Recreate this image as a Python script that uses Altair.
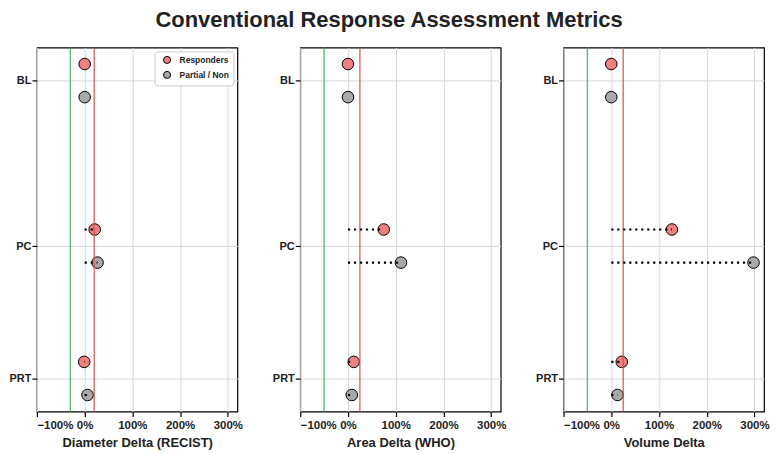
import altair as alt
import pandas as pd

# ---- data ----
panels = ["Diameter Delta (RECIST)", "Area Delta (WHO)", "Volume Delta"]
phases = ["BL", "PC", "PRT"]
phase_pos = [0, 5, 9]          # numeric y position of each phase (unequal spacing)
groups = ["Responders", "Partial / Non"]
group_shift = [-0.5, 0.5]

responders = {
    "Diameter Delta (RECIST)": [0, 21, -1],
    "Area Delta (WHO)": [0, 75, 12],
    "Volume Delta": [0, 127, 22],
}
partial = {
    "Diameter Delta (RECIST)": [0, 27, 6],
    "Area Delta (WHO)": [0, 111, 8],
    "Volume Delta": [0, 298, 13],
}
thr_pr = [-30, -50, -50]   # green lines
thr_pd = [20, 25, 25]      # red lines

x_ticks = [-100, 0, 100, 200, 300]
colors = ["#F08080", "#A9A9A9"]

FONT = "Liberation Sans"

y_label_expr = "''"
for name, pos in zip(reversed(phases), reversed(phase_pos)):
    y_label_expr = f"datum.value == {pos} ? '{name}' : ({y_label_expr})"
x_label_expr = "datum.value < 0 ? '\u2212' + abs(datum.value) + '%' : datum.value + '%'"

W, H = 201, 365


def panel(i, name):
    rows = []
    for g, shift, vals in zip(groups, group_shift, [responders[name], partial[name]]):
        for ph, pos, v in zip(phases, phase_pos, vals):
            rows.append({"group": g, "phase": ph, "y": pos + shift, "value": v, "zero": 0})
    df = pd.DataFrame(rows)
    thr = pd.DataFrame({"t": [thr_pr[i], thr_pd[i]], "kind": ["pr", "pd"]})

    xscale = alt.Scale(domain=[-100, 320], nice=False, zero=False)
    yscale = alt.Scale(domain=[-1, 10], reverse=True, nice=False, zero=False)

    xaxis = alt.Axis(values=x_ticks, labelExpr=x_label_expr, title=name,
                     titleFontSize=13, titleFontWeight="bold", titleFont=FONT,
                     titleColor="#222222", labelPadding=3, titlePadding=6)
    yaxis = alt.Axis(values=phase_pos, labelExpr=y_label_expr, title=None,
                     labelPadding=1, labelFontSize=11)

    legend = None
    if i == 0:
        legend = alt.Legend(title=None, orient="top-right", offset=4, padding=4,
                            strokeColor="#cccccc", fillColor="white", cornerRadius=3,
                            labelFontSize=8.5, labelFontWeight="bold", labelFont=FONT,
                            labelColor="#222222",
                            symbolSize=50, symbolType="circle", symbolStrokeColor="black",
                            symbolStrokeWidth=1, rowPadding=2, labelOffset=8,
                            symbolOffset=4)

    base = alt.Chart(df)
    pts = base.mark_point(filled=True, size=135, stroke="black", strokeWidth=1,
                          opacity=1).encode(
        x=alt.X("value:Q", scale=xscale, axis=xaxis),
        y=alt.Y("y:Q", scale=yscale, axis=yaxis),
        color=alt.Color("group:N", scale=alt.Scale(domain=groups, range=colors),
                        legend=legend),
    )
    th = alt.Chart(thr).mark_rule(strokeWidth=1.4, opacity=0.85).encode(
        x=alt.X("t:Q", scale=xscale),
        color=alt.Color("kind:N", scale=alt.Scale(domain=["pr", "pd"],
                                                   range=["#4ea85c", "#d24f4f"]),
                        legend=None),
    )
    dots = base.mark_rule(color="black", strokeWidth=2.2, strokeDash=[2.2, 3.8]).encode(
        x=alt.X("zero:Q", scale=xscale),
        x2="value:Q",
        y=alt.Y("y:Q", scale=yscale),
    )
    return alt.layer(pts, th, dots).resolve_scale(color="independent").properties(
        width=W, height=H)


charts = [panel(i, n) for i, n in enumerate(panels)]

chart = alt.hconcat(*charts, spacing=63, bounds="flush").resolve_legend(
    color="independent").properties(
    title=alt.TitleParams("Conventional Response Assessment Metrics", fontSize=22,
                          font=FONT, fontWeight="bold", color="#222222",
                          anchor="middle", offset=14),
    padding={"left": 0, "top": 0, "right": 0, "bottom": 0},
).configure_view(stroke="black", strokeWidth=1.2).configure_axis(
    grid=True, gridColor="#d6d6d6", gridWidth=1, domain=False,
    tickColor="black", tickWidth=1.2, tickSize=5,
    labelFont=FONT, labelFontWeight="bold", labelFontSize=11.5, labelColor="#222222",
)

chart.save("out.html", embed_options={"renderer": "svg", "actions": False})
